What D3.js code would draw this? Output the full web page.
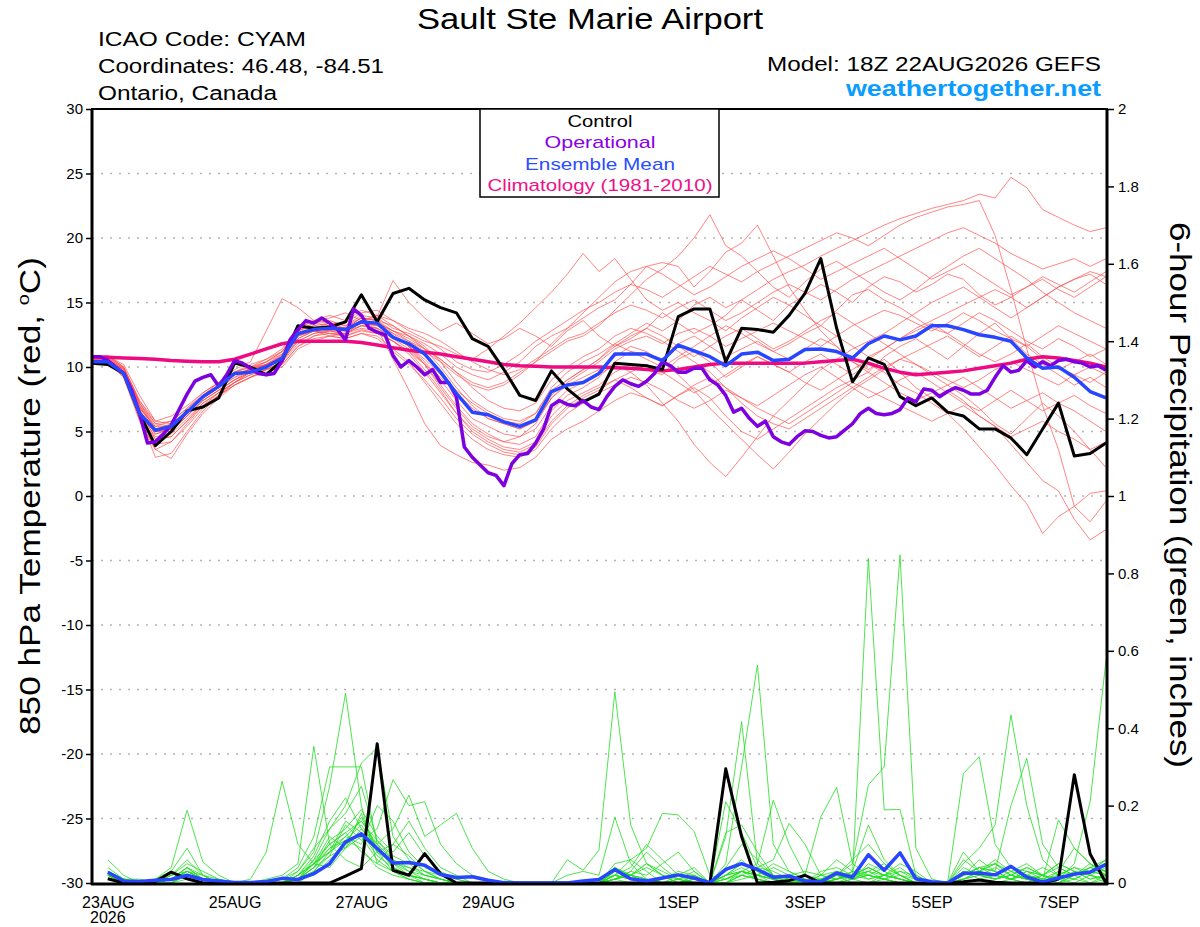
<!DOCTYPE html>
<html lang="en">
<head>
  <meta charset="UTF-8">
  <title>Sault Ste Marie Airport - GEFS</title>
  <script src="https://d3js.org/d3.v7.min.js"></script>
  <style>
    body { margin: 0; background: #fff; }
    text { font-family: "Liberation Sans", Arial, sans-serif; }
  </style>
</head>
<body>
  <svg id="chart" width="1200" height="927"></svg>

  <script>
    // ---- data ----
    // 850 hPa temperature, 6-hourly from 22AUG 18Z to 7SEP 18Z (65 steps)
    const control = [10.3,10.2,9.5,6.4,3.9,5.0,6.6,6.9,7.6,10.3,10.0,9.4,10.5,13.2,13.0,13.1,13.5,15.6,13.5,15.7,16.1,15.2,14.6,14.2,12.2,11.6,9.8,7.8,7.4,9.7,8.3,7.3,7.9,10.3,10.2,10.1,9.8,13.9,14.5,14.5,10.4,13.0,12.9,12.7,14.0,15.7,18.4,13.0,8.85,10.7,10.2,7.7,7.0,7.6,6.5,6.2,5.2,5.2,4.5,3.2,5.2,7.2,3.1,3.3,4.1];

    const ensMean = [10.4,10.4,9.5,6.4,5.1,5.4,6.5,7.7,8.5,9.5,9.6,10.0,10.7,12.6,12.9,13.0,12.9,13.5,13.4,12.3,11.8,11.0,9.6,7.95,6.5,6.3,5.75,5.4,5.9,8.1,8.6,8.8,9.5,11.0,11.0,11.0,10.5,11.7,11.25,10.8,10.1,11.0,11.15,10.5,10.6,11.35,11.4,11.2,10.7,11.8,12.4,12.1,12.4,13.2,13.2,12.9,12.5,12.3,12.0,10.7,9.9,10.0,9.2,8.1,7.6];

    const climatology = [10.8,10.75,10.7,10.65,10.6,10.5,10.45,10.4,10.4,10.6,11.0,11.4,11.8,12.0,12.0,12.0,12.0,11.9,11.7,11.5,11.3,11.15,11.0,10.8,10.6,10.4,10.2,10.1,10.05,10.0,10.0,10.0,10.0,9.95,9.9,9.8,9.7,9.8,10.0,10.2,10.3,10.3,10.3,10.3,10.3,10.3,10.4,10.5,10.6,10.3,9.9,9.6,9.4,9.5,9.6,9.7,9.9,10.1,10.3,10.6,10.8,10.7,10.5,10.3,10.0];

    // operational run is 3-hourly (129 steps)
    const operational = [10.8,10.8,10.5,10.0,9.5,8.2,6.4,4.1,4.2,4.8,5.5,6.7,7.9,8.9,9.2,9.4,8.5,9.4,10.5,10.3,9.9,9.5,9.4,9.5,10.5,12.1,12.9,13.6,13.4,13.8,13.4,12.9,12.1,14.5,14.0,13.0,12.7,12.5,10.9,10.0,10.5,10.0,9.4,9.8,8.8,8.8,7.7,3.8,3.0,2.4,1.8,1.6,0.8,2.5,3.2,3.3,4.1,5.2,7.0,7.4,7.1,7.0,7.4,6.9,6.7,7.7,8.5,9.0,8.7,8.5,8.9,9.5,10.4,10.1,9.6,9.6,9.9,9.9,9.0,8.6,7.8,6.5,6.8,6.0,5.4,5.8,4.6,4.2,4.0,4.6,5.05,5.0,4.7,4.5,4.6,5.1,5.6,6.4,6.8,6.4,6.3,6.4,6.7,7.6,7.3,8.3,8.2,7.7,8.1,8.4,8.2,7.9,7.9,8.2,9.2,10.1,9.6,9.75,10.5,10.0,10.4,10.1,10.5,10.6,10.4,10.3,10.0,10.1,9.75];

    const ensTemp = [
      [10.6,10.8,10.2,7.8,5.8,5.6,6.4,7.6,8.4,9.2,9.9,10.2,11.0,12.4,13.0,12.8,12.5,13.6,14.0,13.2,12.4,11.6,10.4,8.8,7.4,6.6,6.0,5.8,6.4,8.2,9.0,9.8,10.6,11.8,12.6,13.4,12.8,13.6,14.8,15.4,14.6,15.2,16.0,16.8,17.4,17.9,18.6,19.2,19.8,20.4,21.0,21.5,21.9,22.3,22.6,22.9,23.4,23.1,24.7,23.9,22.2,21.6,21.0,20.5,20.8],
      [10.3,10.5,9.6,6.8,4.4,4.6,5.8,7.2,8.0,8.8,9.6,10.2,10.6,12.0,12.6,12.9,13.1,13.4,13.0,12.2,11.4,10.2,8.6,7.0,5.6,4.8,4.2,4.0,4.6,6.6,7.8,8.4,9.2,10.4,11.2,11.0,10.6,11.8,12.4,11.6,10.8,11.4,12.0,11.2,10.6,11.4,12.2,11.6,10.4,9.8,10.6,9.6,8.4,7.6,8.2,7.4,6.2,5.4,4.0,2.6,1.2,0.4,-1.8,-3.4,-2.6],
      [10.8,10.6,9.4,6.2,3.0,3.3,5.0,6.6,7.8,8.6,9.2,9.8,10.4,12.2,12.8,12.6,12.4,12.9,12.6,12.0,11.2,9.8,8.2,6.4,5.2,4.4,3.8,3.6,4.2,6.2,7.4,8.0,8.6,9.6,10.2,9.8,9.4,10.6,11.2,10.4,9.2,10.0,10.8,10.2,9.6,10.4,11.0,10.2,9.4,10.2,9.6,8.6,8.0,7.2,6.4,5.2,3.8,2.4,0.8,-0.6,-2.9,-1.6,-0.8,0.2,0.4],
      [10.4,10.5,9.2,6.0,4.0,4.2,5.6,7.0,7.8,8.8,9.4,9.8,10.2,11.6,12.4,12.8,12.6,13.2,13.0,10.6,8.2,5.6,3.9,3.2,2.6,2.4,2.0,2.2,3.0,4.4,5.2,5.8,6.6,7.4,8.0,7.6,7.0,7.8,8.4,7.6,6.2,5.0,4.4,5.2,6.0,6.8,7.6,8.4,9.0,9.6,8.8,8.0,7.4,8.0,8.6,9.2,8.4,7.6,6.8,7.4,8.0,7.2,6.6,5.8,5.0],
      [10.7,10.9,10.0,7.2,5.4,5.8,6.8,7.8,8.8,9.8,10.4,12.8,15.3,14.6,13.6,13.8,14.2,13.6,13.9,16.7,15.0,13.8,12.8,13.4,12.6,11.8,12.2,13.0,12.4,11.6,12.8,13.6,12.4,11.6,12.2,13.0,14.2,13.4,12.6,13.2,14.0,15.2,14.4,13.6,14.8,15.6,16.4,15.8,15.0,16.2,17.0,16.6,15.8,16.4,17.2,16.8,15.6,14.8,15.4,16.2,17.0,16.4,15.8,16.6,17.4],
      [10.5,10.7,9.9,7.0,5.2,5.6,6.6,7.8,8.6,9.4,9.9,10.4,11.0,12.8,13.4,13.6,13.2,14.0,13.8,13.0,12.6,12.0,11.6,11.0,10.6,11.4,12.4,13.4,14.6,15.8,17.2,18.8,17.4,18.4,16.8,15.2,14.4,15.0,14.2,13.6,12.8,13.8,14.6,15.4,14.8,14.0,13.2,14.4,15.6,16.0,15.2,14.6,13.8,13.0,12.6,13.4,14.2,13.6,12.8,12.0,11.4,12.2,11.6,10.8,11.4],
      [10.6,10.4,9.6,6.6,4.8,5.2,6.4,7.6,8.4,9.4,9.8,10.2,10.9,12.6,13.0,13.4,13.0,13.8,13.6,12.6,12.0,11.4,10.6,9.6,8.8,8.4,8.8,9.6,10.4,11.2,12.0,12.4,13.2,14.4,15.6,16.8,17.6,18.6,20.0,21.8,19.4,18.6,17.4,16.2,15.4,16.6,17.6,18.2,17.4,16.6,15.8,15.2,16.0,17.0,17.8,18.6,19.2,18.4,17.6,16.8,15.8,15.0,14.2,13.6,13.0],
      [10.4,10.6,9.8,6.9,5.0,5.0,6.2,7.4,8.2,9.0,9.6,10.0,10.6,12.4,12.8,12.4,12.6,13.2,13.4,12.8,12.4,11.8,11.0,10.0,9.4,9.0,9.6,10.4,11.6,12.4,13.0,13.8,14.6,15.2,16.4,17.8,18.1,17.8,16.2,17.4,18.9,19.6,21.0,18.6,16.2,14.4,12.8,11.6,10.4,9.6,10.8,11.6,12.2,11.4,10.6,11.6,12.6,13.4,12.2,11.0,10.2,9.4,8.6,9.2,8.4],
      [10.2,10.4,9.4,6.4,4.6,4.8,6.0,7.2,8.0,8.8,9.6,10.0,10.5,12.0,12.6,12.8,12.8,13.2,13.0,12.4,11.6,10.4,9.0,7.4,6.0,5.4,4.8,4.6,5.2,7.0,8.2,8.8,9.4,10.2,9.6,8.6,7.2,5.8,4.0,2.6,1.5,3.0,4.6,6.2,7.4,8.6,9.8,10.6,11.4,12.0,12.6,13.4,14.2,15.0,15.6,16.2,15.4,14.6,13.8,14.6,15.4,16.2,16.8,17.4,17.0],
      [10.6,10.5,9.6,6.8,5.4,5.4,6.4,7.6,8.6,9.4,9.8,10.0,10.8,12.6,13.2,13.0,12.8,13.4,13.2,12.6,11.6,10.2,8.4,6.8,5.4,4.6,4.2,4.6,5.6,7.6,8.6,9.2,9.8,10.8,11.6,11.2,10.4,9.4,8.2,6.8,5.6,4.4,3.2,2.1,3.4,4.8,6.0,7.2,8.2,9.0,9.8,10.6,11.2,11.8,12.4,11.6,10.8,11.6,12.4,11.6,10.6,9.8,10.4,11.0,10.2],
      [10.5,10.6,9.7,6.6,4.8,5.2,6.4,7.6,8.4,9.2,9.7,10.2,10.8,12.2,12.8,12.6,12.6,13.0,12.8,12.0,11.2,10.2,9.2,8.0,6.8,6.0,5.6,5.2,5.8,7.6,8.8,9.6,10.4,11.4,12.0,12.4,11.8,12.6,13.0,12.4,11.6,12.2,12.8,13.4,12.8,12.2,11.6,12.4,13.2,13.8,14.4,14.0,13.4,12.8,13.4,14.2,13.6,12.8,12.2,11.6,12.4,13.2,12.6,12.0,11.4],
      [10.7,10.8,10.0,7.2,5.6,5.4,6.6,7.8,8.6,9.6,10.0,10.4,11.2,12.8,13.4,13.2,13.0,13.8,13.6,13.2,12.4,11.4,10.0,8.4,7.0,6.0,5.6,5.2,5.8,7.8,9.0,9.8,10.6,11.6,12.4,13.0,12.4,11.6,10.8,11.6,12.4,13.0,12.2,11.4,12.0,12.8,13.6,14.2,13.4,12.6,11.8,11.0,10.2,9.4,8.6,7.8,6.8,5.6,4.8,6.0,7.2,6.2,5.0,3.6,2.2],
      [10.3,10.4,9.4,6.2,4.4,4.6,5.8,7.0,8.0,8.8,9.4,9.8,10.4,11.8,12.4,12.6,12.4,12.8,12.6,12.0,11.0,9.6,8.0,6.4,5.0,4.2,3.6,3.4,4.0,5.8,7.0,7.8,8.4,9.0,8.4,7.6,7.0,7.8,8.6,9.2,8.4,7.6,7.0,7.8,8.6,9.4,10.0,9.2,8.4,7.6,8.2,9.0,9.6,8.8,8.0,7.2,6.6,7.4,8.2,7.4,6.6,7.2,7.8,7.0,6.4],
      [10.6,10.7,9.9,7.4,5.8,6.2,7.0,8.0,8.8,9.6,10.0,10.6,11.4,13.0,13.6,14.0,13.6,14.4,14.0,13.6,13.0,12.6,12.0,11.2,10.4,9.8,9.4,9.8,10.6,11.4,12.2,12.6,13.4,14.2,14.8,14.4,13.8,14.6,15.2,14.4,13.6,14.2,15.0,15.8,16.4,15.8,15.2,16.0,16.8,17.4,18.0,18.6,19.2,19.8,20.4,20.8,20.2,19.6,18.8,18.2,17.6,18.0,18.4,17.8,18.4],
      [10.4,10.3,9.2,5.8,3.6,4.2,5.4,6.8,7.8,8.6,9.2,9.6,10.0,11.4,12.0,12.4,12.2,12.6,12.4,11.4,10.4,8.8,7.2,5.6,4.4,3.6,3.2,3.0,3.6,5.2,6.4,7.2,8.0,8.6,9.2,8.8,8.2,7.4,6.8,7.4,8.2,7.6,6.8,6.2,5.6,6.4,7.2,8.0,8.8,8.2,7.6,7.0,6.4,5.8,6.4,7.0,6.2,5.4,4.6,5.2,5.8,5.0,4.4,3.6,4.2],
      [10.5,10.6,9.8,7.0,5.2,5.4,6.6,7.8,8.6,9.4,9.8,10.4,11.2,12.8,13.2,13.4,13.2,13.8,13.6,12.8,12.0,11.2,10.4,9.4,8.6,8.2,8.6,9.4,10.4,11.8,13.0,14.2,15.4,16.6,17.4,17.8,17.2,16.4,15.6,16.2,17.0,17.8,18.4,19.0,18.4,17.6,16.8,17.4,18.0,18.6,19.2,18.4,17.6,16.8,17.4,18.0,17.2,16.4,15.6,16.2,16.8,16.0,15.4,16.2,17.0],
      [10.4,10.5,9.5,6.6,5.0,5.2,6.2,7.4,8.2,9.0,9.6,10.2,10.7,12.4,12.8,13.0,12.8,13.4,13.2,12.4,11.6,10.6,9.4,8.2,7.2,6.4,5.8,5.6,6.4,8.4,9.6,10.4,11.0,11.8,11.2,10.6,10.0,10.8,11.6,12.4,13.2,12.6,11.8,11.2,11.8,12.6,13.2,12.4,11.6,10.8,11.4,12.2,12.8,13.4,12.6,11.8,11.0,10.4,11.0,11.8,10.8,10.0,9.4,8.8,9.6],
      [10.8,10.6,9.8,7.2,5.2,5.0,6.2,7.4,8.2,9.0,9.8,10.2,10.8,12.6,13.0,13.2,13.0,13.6,13.4,12.8,12.2,11.4,10.6,9.6,8.4,7.4,6.8,6.6,7.2,9.0,10.0,10.8,11.4,12.4,13.0,12.6,12.0,11.2,10.4,9.6,8.4,7.2,6.2,5.6,5.2,6.0,6.8,7.6,8.4,9.2,10.0,10.6,10.2,9.6,9.0,8.4,9.0,9.8,10.4,9.8,9.2,8.6,9.4,10.0,9.4],
      [10.6,10.8,10.0,7.4,5.6,5.8,6.8,8.0,8.8,9.6,10.2,10.6,11.2,13.0,13.6,13.4,13.4,14.2,14.4,13.6,12.8,12.2,11.4,10.4,9.8,9.6,10.2,11.0,12.0,12.8,13.6,14.4,15.0,15.8,16.4,16.0,15.4,16.2,17.0,17.8,17.2,16.6,17.4,18.0,18.6,19.2,19.8,20.4,20.0,19.4,20.2,21.0,21.6,22.0,22.4,22.6,22.9,20.2,16.0,11.4,7.0,3.6,-0.8,-2.0,-0.4],
      [10.3,10.4,9.3,6.0,3.6,2.9,4.8,6.4,7.6,8.6,9.2,9.8,10.2,11.6,12.2,12.4,12.2,12.6,12.2,11.2,10.2,9.0,7.6,6.0,4.8,4.0,3.4,3.2,3.8,5.6,6.8,7.6,8.2,9.0,9.6,10.2,9.6,8.8,8.0,8.6,9.4,10.2,10.8,10.2,9.6,8.8,8.2,9.0,9.8,10.6,11.4,12.2,13.0,13.6,14.2,14.8,15.4,16.0,15.4,14.6,15.4,16.2,16.8,17.2,16.4]
    ];

    // 6-hour precipitation (inches), valid 23AUG 00Z .. 7SEP 18Z (64 steps)
    const controlPrecip = [0.011,0,0,0.004,0.028,0.011,0,0, 0,0,0,0,0,0,0,0.018, 0.037,0.36,0.033,0.02,0.076,0.024,0,0, 0,0,0,0,0,0,0,0, 0,0,0,0,0,0,0,0.295, 0.12,0,0.002,0.006,0.02,0,0,0, 0,0,0,0,0,0,0.003,0.008, 0.002,0,0,0,0.01,0.28,0.075,0];

    const meanPrecip = [0.028,0.005,0.004,0.007,0.009,0.02,0.009,0.005, 0.001,0.001,0.004,0.012,0.009,0.024,0.05,0.106, 0.127,0.089,0.052,0.053,0.046,0.022,0.014,0.016, 0.007,0.001,0,0,0,0,0.005,0.009, 0.035,0.011,0.005,0.013,0.021,0.013,0.001,0.035, 0.05,0.035,0.015,0.018,0.005,0.003,0.026,0.015, 0.073,0.033,0.078,0.011,0.003,0,0.025,0.026, 0.021,0.043,0.015,0.003,0.013,0.023,0.028,0.048];

    const ensPrecip = [
      [.02,0,0,0,.01,.03,.01,0, 0,0,0,.01,.03,.08,.25,.49, .20,.05,.03,.02,.01,0,0,0, 0,0,0,0,0,0,0,.01, .04,.02,0,.01,.03,.02,0,.02, .05,.03,.01,0,0,.02,.06,.03, .01,.02,.04,.01,0,0,.02,.04, .03,.01,0,.02,.05,.03,.01,.02],
      [.04,.01,0,0,.02,.06,.02,0, 0,0,.01,.02,.05,.353,.10,.06, .04,.08,.05,.02,0,0,0,0, 0,0,0,0,0,0,0,0, .02,.06,.03,0,0,0,0,.04, .10,.06,.02,.01,0,0,.01,.03, .15,.06,.02,0,0,0,.01,.03, .05,.02,.01,0,.01,.02,.04,.06],
      [.03,.01,.01,0,.01,.04,.01,0, 0,.01,.08,.263,.10,.05,.04,.09, .12,.06,.03,.01,0,0,0,0, 0,0,0,0,0,.02,.03,.02, .17,.05,.01,0,0,.01,0,.02, .03,.01,0,0,.02,.01,0,.01, .03,.05,.02,.01,0,0,.08,.03, .01,.02,.01,0,.03,.09,.05,.02],
      [.06,.02,0,.01,.04,.188,.054,.02, 0,0,0,0,.02,.05,.08,.11, .09,.04,.02,.01,0,0,0,0, 0,0,0,0,0,0,0,0, .01,.03,.08,.04,.01,0,0,.01, .02,.04,.03,.01,0,.01,.02,0, 0,.01,.03,.02,0,0,0,.01, .02,.04,.02,0,.01,.03,.02,.01],
      [.02,0,0,.01,.03,.09,.02,0, 0,0,0,.01,.04,.12,.30,.30, .30,.10,.04,.02,.01,0,0,0, 0,0,0,0,0,0,0,0, .03,.01,0,0,0,.02,0,.13, .15,.08,.02,0,0,0,0,.02, .04,.02,.01,0,0,0,.03,.01, 0,.01,.03,.02,0,.01,.03,.06],
      [.03,.01,0,0,.02,.05,.03,.01, 0,0,0,0,.03,.09,.14,.20, .31,.35,.12,.06,.03,.01,0,0, 0,0,0,0,0,0,0,.01, .02,.04,.10,.06,.02,0,0,.01, .03,.02,.01,.01,0,.03,.04,.02, .02,.01,0,0,0,0,.01,.02, .04,.02,.01,0,0,.02,.03,.02],
      [.02,0,0,0,.01,.02,.01,0, 0,0,0,0,.01,.04,.07,.15, .11,.14,.267,.20,.21,.10,.05,.02, .01,0,0,0,0,0,0,0, .01,.02,.05,.02,0,0,0,.03, .06,.02,0,0,0,.02,.03,.01, 0,.02,.05,.03,0,0,.02,.03, .06,.03,.01,.02,.04,.02,0,.01],
      [.01,0,0,0,0,.02,0,0, 0,0,0,0,.02,.06,.10,.13, .16,.10,.14,.227,.12,.15,.18,.09, .03,.01,0,0,0,0,0,0, .02,.01,0,0,.01,.03,0,0, .02,.01,0,0,.01,0,.02,.06, .10,.05,.02,0,0,0,.04,.02, .01,.03,.05,.02,.01,0,.02,.04],
      [.02,.01,0,0,.01,.03,.02,0, 0,0,0,0,0,.03,.08,.16, .13,.07,.04,.02,.01,0,0,0, 0,0,0,0,0,.06,.033,.085, .494,.15,.05,.02,0,.01,0,0, .02,.01,0,0,0,0,.01,.02, .03,.01,0,0,0,0,.02,.06, .03,.01,0,0,.02,.04,.02,0],
      [.01,0,0,0,0,.01,0,0, 0,0,0,0,.01,.05,.12,.09, .18,.08,.03,.01,0,0,0,0, 0,0,0,0,0,0,0,0, .03,.02,.04,.02,.01,0,0,.05, .30,.563,.10,.03,.01,0,0,.01, .02,.04,.02,0,0,0,.01,.02, .02,.04,.03,.01,0,.02,.05,.03],
      [.03,.01,0,0,.01,.04,.01,0, 0,0,0,0,.02,.07,.16,.22, .14,.09,.05,.03,.01,0,0,0, 0,0,0,0,0,0,0,0, .01,.03,.02,.05,.08,.03,0,.12, .417,.05,.02,0,0,.01,.02,.01, .05,.03,.01,0,0,0,.06,.03, .02,.01,.02,.04,.02,.01,0,.02],
      [.02,0,0,0,.01,.02,.01,0, 0,0,0,0,.01,.06,.14,.18, .25,.11,.06,.04,.02,.01,0,0, 0,0,0,0,0,0,0,0, .02,.01,0,0,.02,.04,0,.02, .04,.02,.01,.02,.03,.02,.01,.02, .839,.189,.19,.02,0,0,.03,.02, .01,.02,.04,.02,0,.03,.02,.01],
      [.01,0,0,0,0,.03,.01,0, 0,0,0,0,.02,.05,.09,.12, .10,.20,.16,.08,.04,.02,0,0, 0,0,0,0,0,0,0,0, .04,.02,.01,0,0,0,0,.02, .03,.02,.05,.03,.01,0,.02,.05, .253,.30,.848,.09,.01,0,.02,.04, .05,.02,.01,0,.01,.02,.04,.03],
      [.02,0,0,0,.01,.02,0,0, 0,0,0,0,.01,.04,.11,.14, .19,.12,.08,.13,.07,.03,.01,0, 0,0,0,0,0,0,0,0, .01,0,0,0,.01,.02,0,0, .01,.02,.04,.02,0,0,.01,.02, .04,.02,.01,0,0,0,.05,.09, .15,.434,.20,.06,.02,.01,.03,.05],
      [.03,.01,0,0,.01,.04,.02,.01, 0,0,0,0,.01,.05,.10,.13, .08,.05,.10,.16,.09,.04,.02,0, 0,0,0,0,0,0,0,0, .02,.01,0,0,0,0,0,.01, .03,.02,.01,0,0,.01,.02,.01, .02,.01,0,0,0,0,.01,.03, .02,.01,.03,.02,.01,.05,.21,.576],
      [.02,0,0,0,0,.02,0,0, 0,0,0,0,.01,.03,.05,.10, .17,.09,.05,.04,.03,.02,.01,0, 0,0,0,0,0,0,0,0, .01,.02,.01,0,0,0,0,.02, .05,.03,.01,0,0,.01,.03,.02, .01,.02,.03,.01,0,0,.283,.326, .10,.04,.02,.01,.02,.04,.03,.06],
      [.01,0,0,0,.01,.02,.01,0, 0,0,0,0,.01,.02,.06,.10, .13,.08,.10,.07,.03,.01,0,0, 0,0,0,0,0,0,0,0, .03,.02,.01,0,0,.01,0,0, .02,.01,0,.01,0,0,.01,.03, .02,.01,.02,0,0,0,.02,.04, .03,.20,.322,.10,.04,.02,.03,.02],
      [.02,.01,0,0,.02,.03,.01,0, 0,0,0,0,.02,.05,.08,.12, .16,.11,.07,.05,.02,.01,0,0, 0,0,0,0,0,0,0,0, .02,.01,0,.01,.02,.01,0,0, .03,.02,.01,0,.02,.171,.247,.05, .02,.01,0,0,0,0,.03,.02, .01,.02,.04,.02,.05,.03,.01,.02],
      [.01,0,0,0,.01,.02,0,0, 0,0,0,0,.01,.03,.07,.09, .14,.10,.06,.03,.02,.01,0,0, 0,0,0,0,0,0,0,0, .05,.06,.09,.18,.176,.133,.02,.01, .03,.05,.214,.10,.02,0,.01,.02, .03,.02,.01,0,0,0,.02,.04, .02,.01,.02,.01,.03,.02,.04,.03],
      [.02,.01,0,0,.01,.03,.01,0, 0,0,0,0,.01,.04,.09,.11, .15,.09,.04,.02,.01,0,0,0, 0,0,0,0,0,0,0,0, .01,.02,.05,.03,.01,0,0,.21, .13,.04,.06,.154,.10,.02,.01,.02, .04,.02,.01,0,0,0,.02,.03, .05,.03,.02,.01,.163,.09,.05,.02]
    ];

    const tempTicks = [-30,-25,-20,-15,-10,-5,0,5,10,15,20,25,30];
    const gridTemps = [-25,-20,-15,-10,-5,0,5,10,15,20,25];
    const precipTicks = [0,0.2,0.4,0.6,0.8,1,1.2,1.4,1.6,1.8,2];
    const dateTicks = ["2026-08-23","2026-08-25","2026-08-27","2026-08-29","2026-09-01","2026-09-03","2026-09-05","2026-09-07"];
    const dateLabels = ["23AUG","25AUG","27AUG","29AUG","1SEP","3SEP","5SEP","7SEP"];

    // ---- setup ----
    const svg = d3.select("#chart");
    const plot = { left: 92, right: 1106, top: 109, bottom: 883 };
    const HOUR = 3600 * 1000;
    const start = Date.UTC(2026, 7, 22, 18);
    const t6 = d3.range(65).map(i => new Date(start + i * 6 * HOUR));
    const t3 = d3.range(129).map(j => new Date(start + j * 3 * HOUR));

    const x = d3.scaleUtc().domain([t6[0], t6[64]]).range([plot.left, plot.right]);
    const yT = d3.scaleLinear().domain([-30, 30]).range([plot.bottom, plot.top]);
    const yP = d3.scaleLinear().domain([0, 2]).range([plot.bottom, plot.top]);

    const lineT = d3.line().x(d => x(d[0])).y(d => yT(d[1]));
    const lineP = d3.line().x(d => x(d[0])).y(d => yP(d[1]));
    const pairs6 = arr => arr.map((v, i) => [t6[i], v]);
    const pairs3 = arr => arr.map((v, j) => [t3[j], v]);
    const pairsP = arr => arr.map((v, k) => [t6[k + 1], v]);

    // gridlines
    svg.append("g").selectAll("line")
      .data(gridTemps)
      .enter().append("line")
      .attr("x1", plot.left).attr("x2", plot.right)
      .attr("y1", d => yT(d)).attr("y2", d => yT(d))
      .attr("stroke", "#b4b4b4")
      .attr("stroke-width", 1.5)
      .attr("stroke-dasharray", "2,7");

    const data = svg.append("g");

    // ensemble members
    data.append("g").selectAll("path")
      .data(ensTemp)
      .enter().append("path")
      .attr("d", d => lineT(pairs6(d)))
      .attr("fill", "none")
      .attr("stroke", "#ff4a4a")
      .attr("stroke-opacity", 0.85)
      .attr("stroke-width", 0.8);

    data.append("g").selectAll("path")
      .data(ensPrecip)
      .enter().append("path")
      .attr("d", d => lineP(pairsP(d)))
      .attr("fill", "none")
      .attr("stroke", "#22dd22")
      .attr("stroke-width", 0.8);

    const thick = (d, color, w) => data.append("path")
      .attr("d", d)
      .attr("fill", "none")
      .attr("stroke", color)
      .attr("stroke-width", w)
      .attr("stroke-linejoin", "round");

    thick(lineT(pairs6(climatology)), "#ee0a80", 3.5);
    thick(lineT(pairs6(control)), "#000", 3);
    thick(lineP(pairsP(controlPrecip)), "#000", 3);
    thick(lineT(pairs3(operational)), "#7d00e0", 3.5);
    thick(lineT(pairs6(ensMean)), "#2846ff", 3.5);
    thick(lineP(pairsP(meanPrecip)), "#2846ff", 3.5);

    // frame
    const frame = svg.append("g").attr("stroke", "#000");
    frame.append("line").attr("x1", plot.left - 1).attr("x2", plot.right + 2).attr("y1", plot.top).attr("y2", plot.top).attr("stroke-width", 2);
    frame.append("line").attr("x1", plot.left - 1).attr("x2", plot.right + 2).attr("y1", plot.bottom + 1).attr("y2", plot.bottom + 1).attr("stroke-width", 3);
    frame.append("line").attr("x1", plot.left).attr("x2", plot.left).attr("y1", plot.top).attr("y2", plot.bottom + 2).attr("stroke-width", 3);
    frame.append("line").attr("x1", plot.right + 1).attr("x2", plot.right + 1).attr("y1", plot.top).attr("y2", plot.bottom + 2).attr("stroke-width", 3);

    // axes
    const styleAxis = (g, size) => {
      g.select(".domain").remove();
      g.selectAll(".tick line").attr("stroke", "#000").attr("stroke-width", 1.5);
      g.selectAll(".tick text").attr("fill", "#000").style("font-size", size + "px")
        .style("font-family", "'Liberation Sans', Arial, sans-serif");
    };

    svg.append("g")
      .attr("transform", `translate(${plot.left - 1},0)`)
      .call(d3.axisLeft(yT).tickValues(tempTicks).tickSize(5).tickPadding(3).tickFormat(d => d))
      .call(g => styleAxis(g, 15));

    svg.append("g")
      .attr("transform", `translate(${plot.right + 2},0)`)
      .call(d3.axisRight(yP).tickValues(precipTicks).tickSize(6).tickPadding(4).tickFormat(d3.format("~g")))
      .call(g => styleAxis(g, 15));

    const parseDay = d3.utcParse("%Y-%m-%d");
    const xAxis = svg.append("g")
      .attr("transform", `translate(0,${plot.bottom + 1})`)
      .call(d3.axisBottom(x)
        .tickValues(dateTicks.map(parseDay))
        .tickSize(0).tickPadding(13)
        .tickFormat((d, i) => dateLabels[i]))
      .call(g => styleAxis(g, 16));

    svg.append("text")
      .attr("x", x(parseDay(dateTicks[0])))
      .attr("y", 923)
      .attr("text-anchor", "middle")
      .style("font-size", "16px")
      .text("2026");

    // headings
    const addText = (txt, px, py, size, width, anchor, extra) => {
      const t = svg.append("text")
        .attr("x", px).attr("y", py)
        .attr("text-anchor", anchor)
        .style("font-size", size + "px")
        .attr("textLength", width)
        .attr("lengthAdjust", "spacingAndGlyphs")
        .text(txt);
      if (extra) extra(t);
      return t;
    };

    addText("Sault Ste Marie Airport", 590, 29, 30, 346, "middle");
    addText("ICAO Code: CYAM", 98, 46, 20, 208, "start");
    addText("Coordinates: 46.48, -84.51", 98, 73, 20, 286, "start");
    addText("Ontario, Canada", 98, 100, 20, 179, "start");
    addText("Model: 18Z 22AUG2026 GEFS", 1101, 71, 20, 334, "end");
    addText("weathertogether.net", 1101, 96, 22, 255, "end",
      t => t.attr("fill", "#0a9cff").style("font-weight", "bold"));

    // legend
    svg.append("rect")
      .attr("x", 480).attr("y", plot.top)
      .attr("width", 239).attr("height", 88)
      .attr("fill", "#fff").attr("stroke", "#000").attr("stroke-width", 1.5);

    const legendItems = [
      { label: "Control", color: "#000", y: 127, w: 65 },
      { label: "Operational", color: "#8a00e6", y: 148, w: 111 },
      { label: "Ensemble Mean", color: "#2a4dff", y: 170, w: 150 },
      { label: "Climatology (1981-2010)", color: "#ee1188", y: 191, w: 225 }
    ];
    legendItems.forEach(d => addText(d.label, 600, d.y, 17, d.w, "middle", t => t.attr("fill", d.color)));

    // axis titles
    const leftTitle = svg.append("text")
      .attr("transform", "translate(40,496) rotate(-90)")
      .attr("text-anchor", "middle")
      .style("font-size", "30px")
      .attr("textLength", 478)
      .attr("lengthAdjust", "spacingAndGlyphs");
    leftTitle.append("tspan").text("850 hPa Temperature (red, ");
    leftTitle.append("tspan").attr("dy", -11).style("font-size", "17px").text("o");
    leftTitle.append("tspan").attr("dy", 11).text("C)");

    svg.append("text")
      .attr("transform", "translate(1170,495) rotate(90)")
      .attr("text-anchor", "middle")
      .style("font-size", "30px")
      .attr("textLength", 546)
      .attr("lengthAdjust", "spacingAndGlyphs")
      .text("6-hour Precipitation (green, inches)");
  </script>
</body>
</html>
